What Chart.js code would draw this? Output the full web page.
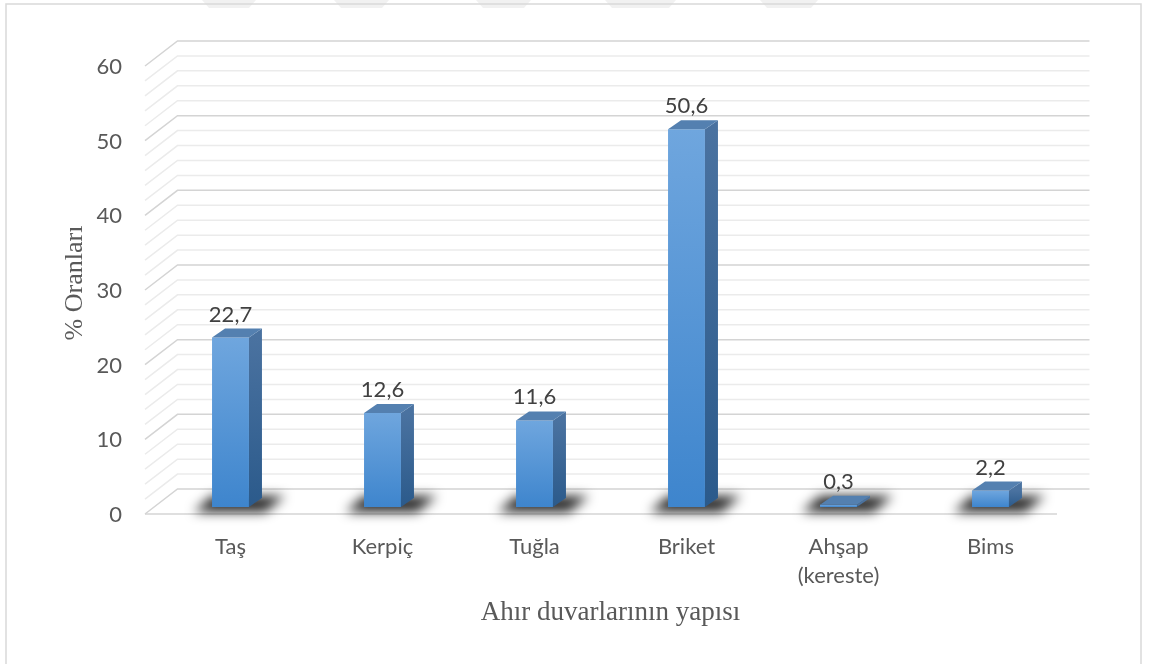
<!DOCTYPE html>
<html>
<head>
<meta charset="utf-8">
<script src="https://cdn.jsdelivr.net/npm/chart.js@4"></script>
<style>
  body { margin: 0; background: #fff; }
  canvas { display: block; }
</style>
</head>
<body>
<canvas id="ahirChart" width="1150" height="664"></canvas>
<script>
const categories = ['Taş', 'Kerpiç', 'Tuğla', 'Briket', ['Ahşap', '(kereste)'], 'Bims'];
const oranlar = [22.7, 12.6, 11.6, 50.6, 0.3, 2.2];
const yMin = 0;
const yMax = 60;
const yStep = 10;
const gridStep = 2;

// fake 3D offsets, measured from the bar front plane
const FRONT = { dx: -9.5, dy: 7 };
const BACK = { dx: 23, dy: -18 };
const DEPTH = { dx: 13, dy: -9 };

const labelFont = '22px Lato';
const titleFont = 'Liberation Serif';

function fmt(v) {
    return v.toFixed(1).replace('.', ',');
}

function poly(ctx, pts, fill) {
    ctx.beginPath();
    ctx.moveTo(pts[0][0], pts[0][1]);
    for (let i = 1; i < pts.length; i++) ctx.lineTo(pts[i][0], pts[i][1]);
    ctx.closePath();
    ctx.fillStyle = fill;
    ctx.fill();
}

const bar3d = {
    id: 'bar3d',
    beforeDraw(chart) {
        const ctx = chart.ctx;
        ctx.save();
        // faint marks along the top edge
        [[202, 256], [334, 389], [476, 531], [605, 676], [760, 818]].forEach(function (m) {
            poly(ctx, [[m[0], 0], [m[1], 0], [m[1] - 7, 8], [m[0] + 7, 8]], '#f1f1f1');
        });
        // outer frame
        ctx.strokeStyle = '#d9d9d9';
        ctx.lineWidth = 1.5;
        ctx.strokeRect(6, 4, 1135, 700);
        ctx.restore();
    },
    beforeDatasetsDraw(chart) {
        const ctx = chart.ctx;
        const y = chart.scales.y;
        const a = chart.chartArea;
        ctx.save();
        ctx.lineWidth = 1.5;
        for (let v = yMin; v <= yMax; v += gridStep) {
            const py = y.getPixelForValue(v);
            ctx.strokeStyle = v % yStep === 0 ? '#d4d4d4' : '#ebebeb';
            ctx.beginPath();
            ctx.moveTo(a.left + FRONT.dx, py + FRONT.dy);
            ctx.lineTo(a.left + BACK.dx, py + BACK.dy);
            ctx.lineTo(a.right + BACK.dx, py + BACK.dy);
            ctx.stroke();
        }
        // floor front edge
        const p0 = y.getPixelForValue(0);
        ctx.strokeStyle = '#d4d4d4';
        ctx.beginPath();
        ctx.moveTo(a.left + FRONT.dx, p0 + FRONT.dy);
        ctx.lineTo(a.right + FRONT.dx, p0 + FRONT.dy);
        ctx.stroke();

        // shadows on the floor
        ctx.filter = 'blur(6px)';
        chart.getDatasetMeta(0).data.forEach(function (bar) {
            const l = bar.x - bar.width / 2;
            const r = bar.x + bar.width / 2;
            const b = bar.base;
            poly(ctx, [[l - 18, b + 5], [r + 16, b + 5], [r + 36, b - 11], [l, b - 11]], 'rgba(0,0,0,0.85)');
        });
        ctx.filter = 'none';
        ctx.restore();
    },
    afterDatasetsDraw(chart) {
        const ctx = chart.ctx;
        ctx.save();
        chart.getDatasetMeta(0).data.forEach(function (bar, i) {
            const l = bar.x - bar.width / 2;
            const r = bar.x + bar.width / 2;
            const t = bar.y;
            const b = bar.base;
            const side = ctx.createLinearGradient(0, t, 0, b + 0.01);
            side.addColorStop(0, '#4a72a0');
            side.addColorStop(1, '#2b5a8b');
            poly(ctx, [[r, t], [r + DEPTH.dx, t + DEPTH.dy], [r + DEPTH.dx, b + DEPTH.dy], [r, b]], side);
            poly(ctx, [[l, t], [l + DEPTH.dx, t + DEPTH.dy], [r + DEPTH.dx, t + DEPTH.dy], [r, t]], '#5480b0');

            ctx.fillStyle = '#404040';
            ctx.font = labelFont;
            ctx.textAlign = 'center';
            ctx.textBaseline = 'alphabetic';
            ctx.fillText(fmt(oranlar[i]), bar.x, t - 16);
        });
        ctx.restore();
    }
};

const data = {
    labels: categories,
    datasets: [
        {
            label: '% Oranları',
            data: oranlar,
            backgroundColor: function (context) {
                const chart = context.chart;
                const y = chart.scales.y;
                if (!y || context.raw === undefined) return '#5b9bd5';
                const top = y.getPixelForValue(context.raw);
                const base = y.getPixelForValue(0);
                if (!isFinite(top) || !isFinite(base)) return '#5b9bd5';
                const g = chart.ctx.createLinearGradient(0, top, 0, base + 0.01);
                g.addColorStop(0, '#6fa6de');
                g.addColorStop(1, '#3e85cd');
                return g;
            },
            borderWidth: 0,
            categoryPercentage: 1,
            barPercentage: 0.243
        }
    ]
};

const config = {
    type: 'bar',
    data: data,
    options: {
        responsive: false,
        animation: false,
        layout: {
            autoPadding: false,
            padding: { top: 59, left: 54.5, right: 83.5, bottom: 0 }
        },
        plugins: {
            legend: { display: false },
            tooltip: { enabled: false }
        },
        scales: {
            x: {
                grid: { display: false, drawTicks: false },
                border: { display: false },
                ticks: {
                    color: '#595959',
                    font: { family: 'Lato', size: 22, lineHeight: 1.3 },
                    padding: 26,
                    maxRotation: 0,
                    autoSkip: false
                },
                title: {
                    display: true,
                    text: 'Ahır duvarlarının yapısı',
                    color: '#595959',
                    font: { family: titleFont, size: 27 },
                    padding: { top: 0, bottom: 35 }
                },
                afterFit: function (scale) { scale.height = 157; }
            },
            y: {
                min: yMin,
                max: yMax,
                grid: { display: false, drawTicks: false },
                border: { display: false },
                ticks: {
                    stepSize: yStep,
                    color: '#595959',
                    font: { family: 'Lato', size: 22 },
                    padding: 32.5,
                    labelOffset: 8
                },
                title: {
                    display: true,
                    text: '% Oranları',
                    color: '#595959',
                    font: { family: titleFont, size: 26 },
                    padding: { top: 5, bottom: 0 }
                },
                afterFit: function (scale) { scale.width = 100; }
            }
        }
    },
    plugins: [bar3d]
};

const ctx = document.getElementById('ahirChart').getContext('2d');
new Chart(ctx, config);
</script>
</body>
</html>
